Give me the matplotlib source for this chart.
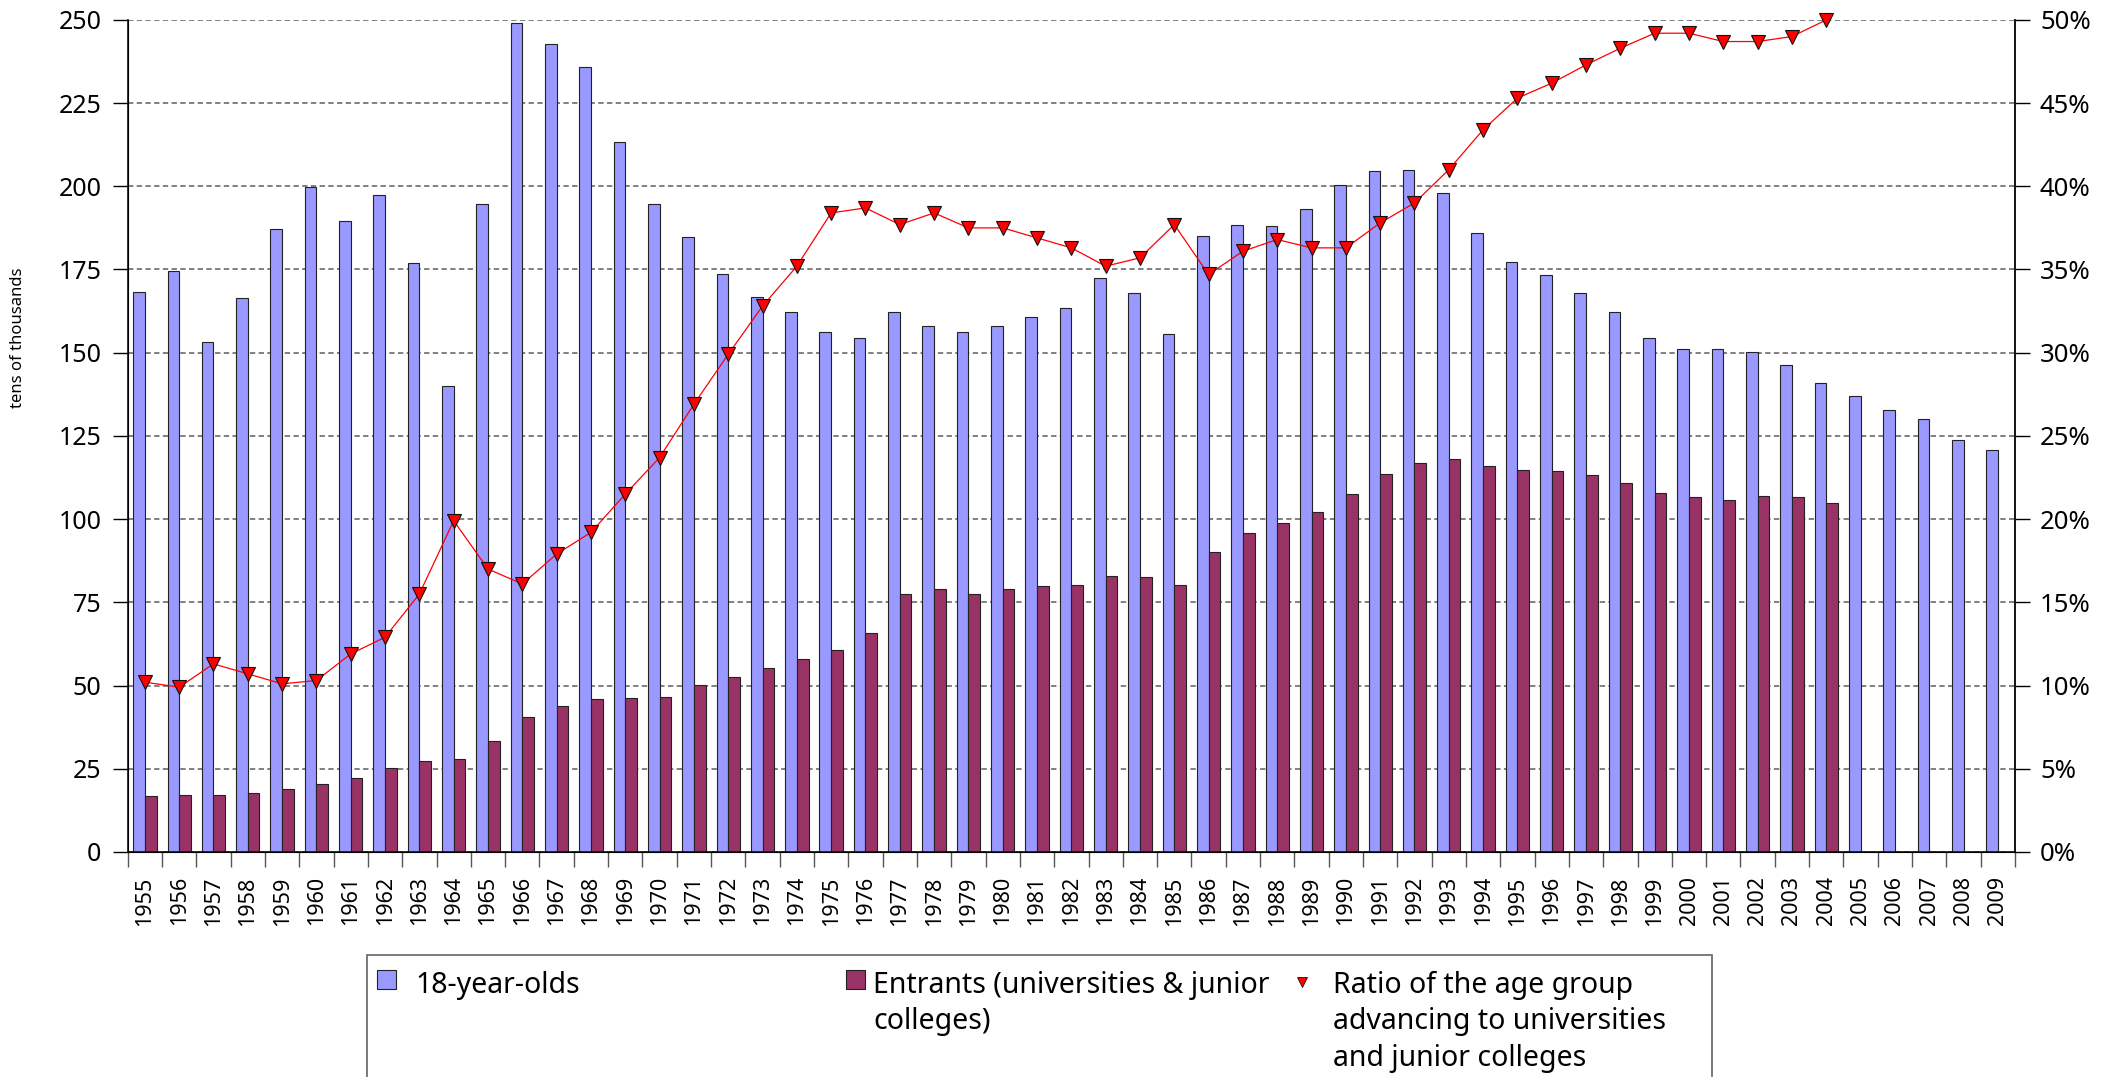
import numpy as np
import matplotlib
matplotlib.use("Agg")
import matplotlib.pyplot as plt
from matplotlib.patches import Rectangle
from matplotlib.lines import Line2D
from matplotlib.ticker import FixedLocator, NullFormatter, FuncFormatter

plt.rcParams['font.family'] = ['Noto Sans', 'DejaVu Sans']

years = list(range(1955, 2010))
pop18 = [168.2, 174.6, 153.1, 166.3, 187.1, 199.7, 189.6, 197.5, 176.9, 140.0,
         194.7, 249.1, 242.8, 235.9, 213.3, 194.6, 184.7, 173.7, 166.8, 162.1,
         156.1, 154.3, 162.3, 158.1, 156.3, 157.9, 160.7, 163.5, 172.4, 167.8,
         155.7, 185.0, 188.3, 188.2, 193.3, 200.4, 204.5, 204.9, 198.1, 186.0,
         177.2, 173.2, 168.0, 162.1, 154.4, 151.0, 151.1, 150.3, 146.4, 140.9,
         136.9, 132.9, 130.0, 123.8, 120.9]
entrants = [16.9, 17.1, 17.1, 17.7, 18.9, 20.4, 22.2, 25.2, 27.3, 27.9,
            33.4, 40.5, 43.9, 45.9, 46.3, 46.6, 50.3, 52.6, 55.3, 58.0,
            60.6, 65.7, 77.4, 78.9, 77.4, 78.9, 79.8, 80.3, 82.9, 82.7,
            80.3, 90.0, 95.8, 98.7, 102.1, 107.6, 113.6, 117.0, 118.0, 116.0,
            114.7, 114.5, 113.3, 110.9, 107.8, 106.5, 105.8, 106.9, 106.6, 104.9]
ratio = [10.2, 9.9, 11.3, 10.7, 10.1, 10.3, 11.9, 12.9, 15.5, 19.9,
         17.0, 16.1, 17.9, 19.2, 21.5, 23.7, 26.9, 29.9, 32.8, 35.2,
         38.4, 38.7, 37.7, 38.4, 37.5, 37.5, 36.9, 36.3, 35.2, 35.7,
         37.7, 34.7, 36.1, 36.8, 36.3, 36.3, 37.8, 39.0, 41.0, 43.4,
         45.3, 46.2, 47.3, 48.3, 49.2, 49.2, 48.7, 48.7, 49.0, 50.0]
left_ticks = [0, 25, 50, 75, 100, 125, 150, 175, 200, 225, 250]
right_ticks = [0, 5, 10, 15, 20, 25, 30, 35, 40, 45, 50]
label_pop = "18-year-olds"
label_ent = "Entrants (universities & junior\ncolleges)"
label_ratio = "Ratio of the age group\nadvancing to universities\nand junior colleges"
ylabel = "tens of thousands"

W, H = 2104, 1077
fig = plt.figure(figsize=(W / 100, H / 100), dpi=100)
ax_l, ax_r, ax_b, ax_t = 127.7, 2015.0, 851.9, 19.9
ax = fig.add_axes([ax_l / W, 1 - ax_b / H, (ax_r - ax_l) / W, (ax_b - ax_t) / H])

blue = '#9999ff'
maroon = '#993366'
x = np.arange(len(years))
bw = 0.34
ax.bar(x - bw / 2, pop18, width=bw, color=blue, edgecolor='#222222', linewidth=0.8, zorder=2)
xe = x[:len(entrants)]
ax.bar(xe + bw / 2, entrants, width=bw, color=maroon, edgecolor='#222222', linewidth=0.8, zorder=2)

ax.set_xlim(-0.5, len(years) - 0.5)
ax.set_ylim(0, 250)
ax.set_yticks(left_ticks)
ax.yaxis.grid(True, linestyle=(0, (3.5, 2.2)), color='#5e5e5e', linewidth=1.1)
ax.set_axisbelow(True)

ax.xaxis.set_major_locator(FixedLocator(np.arange(len(years) + 1) - 0.5))
ax.xaxis.set_major_formatter(NullFormatter())
ax.xaxis.set_minor_locator(FixedLocator(x))
ax.set_xticklabels([str(y) for y in years], minor=True)
ax.tick_params(axis='x', which='major', direction='out', length=10.5, width=1.0, color='#555555')
ax.tick_params(axis='x', which='minor', length=0, pad=17.5, labelsize=15.5, labelrotation=90)
ax.tick_params(axis='y', direction='out', length=11, width=1.0, pad=8, labelsize=18)

ax.spines['top'].set_visible(False)
for s in ['left', 'bottom', 'right']:
    ax.spines[s].set_linewidth(1.2)
    ax.spines[s].set_color('#111111')

ax.set_ylabel(ylabel, fontsize=12)
ax.yaxis.set_label_coords((26 - ax_l) / (ax_r - ax_l), (ax_b - 338) / (ax_b - ax_t))

ax2 = ax.twinx()
ax2.set_ylim(0, 50)
ax2.set_yticks(right_ticks)
ax2.yaxis.set_major_formatter(FuncFormatter(lambda v, p: f"{int(v)}%"))
ax2.tick_params(axis='y', direction='out', length=11, width=1.0, pad=7, labelsize=18.5)
ax2.spines['top'].set_visible(False)
ax2.spines['right'].set_linewidth(1.2)
ax2.spines['right'].set_color('#111111')
ax2.plot(xe, ratio, color='#ff0000', linewidth=0.9, marker='v', markersize=10.5,
         markerfacecolor='#ff0000', markeredgecolor='#111111', markeredgewidth=0.8,
         clip_on=False, zorder=5)

# Legend (drawn as a framed box with three entries)
def fx(px):
    return px / W

def fy(py):
    return 1 - py / H

fig.patches.append(Rectangle((fx(367), fy(1100)), fx(1712) - fx(367), fy(955) - fy(1100),
                             transform=fig.transFigure, facecolor='white', edgecolor='#707070',
                             linewidth=1.3, zorder=1))
fig.patches.append(Rectangle((fx(377), fy(989)), fx(396) - fx(377), fy(970) - fy(989),
                             transform=fig.transFigure, facecolor=blue, edgecolor='#222222',
                             linewidth=0.8, zorder=2))
fig.patches.append(Rectangle((fx(846), fy(989)), fx(865) - fx(846), fy(970) - fy(989),
                             transform=fig.transFigure, facecolor=maroon, edgecolor='#222222',
                             linewidth=0.8, zorder=2))
fig.lines.append(Line2D([fx(1302)], [fy(982)], transform=fig.transFigure, marker='v',
                        markersize=6.5, markerfacecolor='#ff0000', markeredgecolor='#111111',
                        markeredgewidth=0.6, linestyle='none', zorder=3))
for px, txt in [(415, label_pop), (873, label_ent), (1333, label_ratio)]:
    fig.text(fx(px), fy(971), txt, fontsize=20.5, va='top', ha='left',
             linespacing=1.33, zorder=3)

fig.savefig('out.png', dpi=100)
